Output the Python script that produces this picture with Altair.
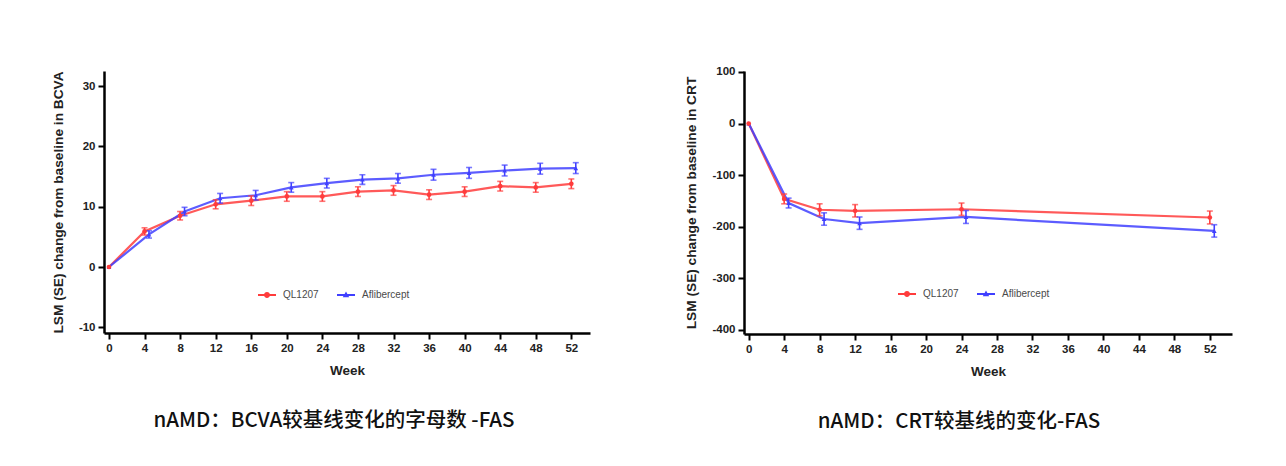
import altair as alt
import pandas as pd

# ---------------- data ----------------
series_names = ["QL1207", "Aflibercept"]
series_colors = ["#FF3C3C", "#4040FF"]

bcva_weeks = [0, 4, 8, 12, 16, 20, 24, 28, 32, 36, 40, 44, 48, 52]
bcva_ql = [0, 5.9, 8.5, 10.4, 11.0, 11.7, 11.7, 12.5, 12.7, 12.0, 12.5, 13.4, 13.2, 13.8]
bcva_ql_se = [0, 0.6, 0.7, 0.75, 0.8, 0.8, 0.8, 0.8, 0.8, 0.8, 0.8, 0.8, 0.8, 0.8]
bcva_afl = [0, 5.4, 9.2, 11.4, 11.9, 13.2, 13.9, 14.5, 14.7, 15.3, 15.6, 16.0, 16.3, 16.4]
bcva_afl_se = [0, 0.6, 0.7, 0.8, 0.8, 0.8, 0.8, 0.8, 0.8, 0.9, 0.9, 0.9, 0.9, 0.9]

crt_weeks = [0, 4, 8, 12, 24, 52]
crt_ql = [0, -146, -167, -169, -166, -182]
crt_ql_se = [0, 9.5, 11.5, 12, 12, 12.5]
crt_afl = [0, -154, -185, -193, -181, -208]
crt_afl_se = [0, 9.5, 12, 12, 12.5, 12]

week_ticks = list(range(0, 53, 4))
bcva_ticks = [-10, 0, 10, 20, 30]
crt_ticks = [100, 0, -100, -200, -300, -400]

bcva_ytitle = "LSM (SE) change from baseline in BCVA"
crt_ytitle = "LSM (SE) change from baseline in CRT"
bcva_caption = "nAMD：BCVA较基线变化的字母数 -FAS"
crt_caption = "nAMD：CRT较基线的变化-FAS"

legend_path_circle = "M-1,-0.12H1V0.12H-1ZM0.33,0A0.33,0.33,0,1,1,-0.33,0A0.33,0.33,0,1,1,0.33,0Z"
legend_path_triangle = "M-1,-0.12H1V0.12H-1ZM0,-0.38L0.36,0.26H-0.36Z"


def build_df(weeks, a, a_se, b, b_se):
    rows = []
    for name, vals, ses in ((series_names[0], a, a_se), (series_names[1], b, b_se)):
        for w, v, s in zip(weeks, vals, ses):
            rows.append({"week": w, "series": name, "value": v, "lo": v - s, "hi": v + s})
    return pd.DataFrame(rows)


FONT = "Liberation Sans"


def make_legend(lx, ly):
    return alt.Legend(title=None, orient="none", direction="horizontal",
                      legendX=lx, legendY=ly, symbolSize=324, symbolOpacity=1,
                      symbolStrokeWidth=0,
                      labelFontSize=10, labelFont=FONT, labelColor="#4a4a4a",
                      labelOffset=7, columnPadding=18, padding=0)


def panel(df, xdom, ydom, yticks, ytitle, caption, width, height, lx, ly, cap_dx):
    base = alt.Chart(df).transform_calculate(
        xpos="datum.week + (datum.series == 'Aflibercept' && datum.week > 0 ? 0.5 : 0)"
    )
    xscale = alt.Scale(domain=xdom, nice=False, zero=False)
    yscale = alt.Scale(domain=ydom, nice=False, zero=False)
    xaxis = alt.Axis(values=week_ticks, labelExpr="'' + datum.value", labelOverlap=False)
    yaxis = alt.Axis(values=yticks, labelExpr="'' + datum.value", labelOverlap=False)

    def X():
        return alt.X("xpos:Q", title="Week", scale=xscale, axis=xaxis)

    def Y(field):
        return alt.Y(f"{field}:Q", title=ytitle, scale=yscale, axis=yaxis)

    # data-driven colour scale (no legend)
    color_nl = alt.Color("series:N", sort=series_names, scale=alt.Scale(range=series_colors), legend=None)
    # explicit-domain fill/shape scales that only carry the legend
    fill_lg = alt.Fill("series:N", scale=alt.Scale(domain=series_names, range=series_colors),
                       legend=make_legend(lx, ly))
    shape_lg = alt.Shape("series:N", scale=alt.Scale(domain=series_names,
                                                     range=[legend_path_circle, legend_path_triangle]),
                         legend=make_legend(lx, ly))

    lines = base.mark_line(strokeWidth=2.2, opacity=0.85).encode(
        x=X(), y=Y("value"), color=color_nl, order=alt.Order("week:Q"))
    errs = base.transform_filter("datum.week > 0")
    rules = errs.mark_rule(strokeWidth=1.6).encode(
        x=X(), y=Y("lo"), y2="hi:Q", color=color_nl)
    cap_lo = errs.mark_tick(orient="horizontal", size=6, thickness=1.6).encode(
        x=X(), y=Y("lo"), color=color_nl)
    cap_hi = errs.mark_tick(orient="horizontal", size=6, thickness=1.6).encode(
        x=X(), y=Y("hi"), color=color_nl)
    pts_a = base.transform_filter(f"datum.series == '{series_names[0]}'").mark_point(
        filled=True, size=22, shape="circle", opacity=1).encode(x=X(), y=Y("value"), color=color_nl)
    pts_b = base.transform_filter(f"datum.series == '{series_names[1]}'").mark_point(
        filled=True, size=22, shape="triangle-up", opacity=1).encode(x=X(), y=Y("value"), color=color_nl)
    # legend-only layer: draws nothing, its scales carry the legend
    leg = base.transform_filter("false").mark_point(filled=True, size=324, opacity=1).encode(
        x=X(), y=Y("value"), fill=fill_lg, shape=shape_lg)

    return alt.layer(lines, rules, cap_lo, cap_hi, pts_b, pts_a, leg).properties(
        width=width, height=height,
        title=alt.TitleParams(caption, orient="bottom", anchor="middle", frame="group",
                              font="Noto Sans CJK SC", fontSize=20.5, fontWeight=500,
                              color="#111111", offset=34, dx=cap_dx)
    )


bcva_df = build_df(bcva_weeks, bcva_ql, bcva_ql_se, bcva_afl, bcva_afl_se)
crt_df = build_df(crt_weeks, crt_ql, crt_ql_se, crt_afl, crt_afl_se)

left = panel(bcva_df, [-0.56, 54.1], [-10.94, 32.5], bcva_ticks, bcva_ytitle, bcva_caption,
             486, 262, 154, 215, -13)
right = panel(crt_df, [-0.53, 54.5], [-407.8, 101.9], crt_ticks, crt_ytitle, crt_caption,
              488, 263, 154, 214, -29)

chart = alt.hconcat(left, right, spacing=154, bounds="flush").resolve_scale(
    color="independent", fill="independent", shape="independent", x="independent", y="independent"
).resolve_legend(color="independent", fill="independent", shape="independent").configure(
    padding={"left": 43, "top": 57, "right": 5, "bottom": 5}
).configure_view(stroke=None).configure_axis(
    grid=False, domainColor="#000000", domainWidth=2.5, tickColor="#000000", tickWidth=2,
    tickSize=6, labelFont=FONT, labelFontWeight="bold", labelFontSize=11.5, labelColor="#222222",
    labelPadding=3, titleFont=FONT, titleFontWeight="bold", titleColor="#222222", labelOverlap=False
).configure_axisY(titlePadding=13, titleFontSize=13.7).configure_axisX(titlePadding=10, titleFontSize=13.5)

chart.save("out.html", embed_options={"renderer": "svg", "actions": False})
